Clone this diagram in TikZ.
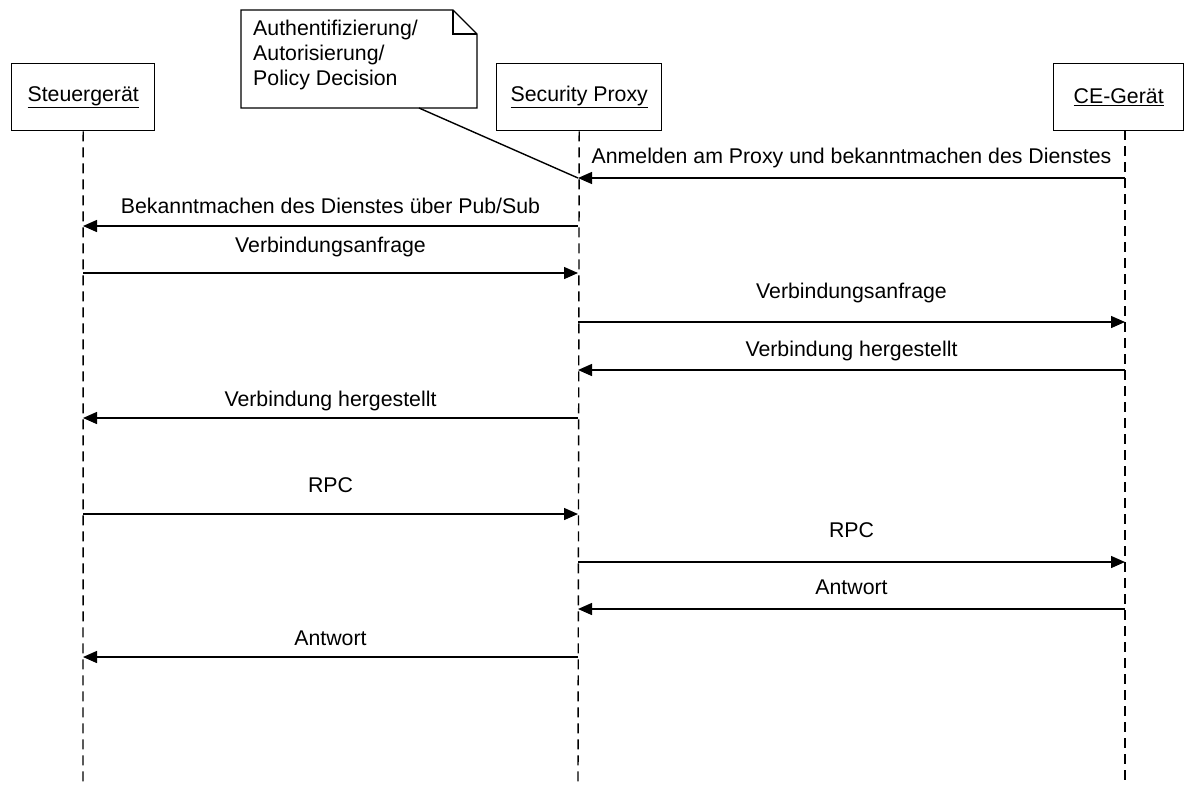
\documentclass[tikz,border=0pt]{standalone}
\usepackage{fontspec}
\setmainfont{Liberation Sans}
\usetikzlibrary{arrows.meta}
\begin{document}
\begin{tikzpicture}[x=1pt,y=-1pt,
  every node/.style={font=\fontsize{21.3}{25}\selectfont, inner sep=0pt},
  actor/.style={draw, line width=1.4pt, minimum height=67pt, anchor=north west},
  lifeline/.style={line width=1.4pt, dash pattern=on 10pt off 6pt},
  msg/.style={line width=1.4pt, -{Triangle[length=14pt,width=12pt]}},
  lbl/.style={anchor=base, yshift=#1}]
\useasboundingbox (0,0) rectangle (1191,785);

% participants
\node[actor, minimum width=143pt] (sg) at (11,63) {\underline{Steuergerät}};
\node[actor, minimum width=165pt] (sp) at (496,63) {\underline{Security Proxy}};
\node[actor, minimum width=130pt] (ce) at (1053,63) {\underline{CE-Gerät}};

% lifelines
\coordinate (cetop) at (1125,130);
\coordinate (sgend) at (83,785);
\coordinate (spend) at (578,785);
\coordinate (ceend) at (1125,785);
\draw[lifeline] (sg.south) -- (sgend);
\draw[lifeline] (sp.south) -- (spend);
\draw[lifeline] (cetop) -- (ceend);

% message anchors on the lifelines
\foreach \n/\y in {1/178,2/226,3/273,4/322,5/370,6/418,7/514,8/562,9/609,10/657}{
  \coordinate (sg\n) at (83,\y);
  \coordinate (sp\n) at (578,\y);
  \coordinate (ce\n) at (1125,\y);
}

% messages
\draw[msg] (ce1) -- node[lbl=15pt] {Anmelden am Proxy und bekanntmachen des Dienstes} (sp1);
\draw[msg] (sp2) -- node[lbl=12.5pt] {Bekanntmachen des Dienstes über Pub/Sub} (sg2);
\draw[msg] (sg3) -- node[lbl=20.5pt] {Verbindungsanfrage} (sp3);
\draw[msg] (sp4) -- node[lbl=24pt] {Verbindungsanfrage} (ce4);
\draw[msg] (ce5) -- node[lbl=14pt] {Verbindung hergestellt} (sp5);
\draw[msg] (sp6) -- node[lbl=12pt] {Verbindung hergestellt} (sg6);
\draw[msg] (sg7) -- node[lbl=21.5pt] {RPC} (sp7);
\draw[msg] (sp8) -- node[lbl=24.5pt] {RPC} (ce8);
\draw[msg] (ce9) -- node[lbl=14.5pt] {Antwort} (sp9);
\draw[msg] (sp10) -- node[lbl=12pt] {Antwort} (sg10);

% note with folded corner
\draw[line width=1.4pt, fill=white] (241,10) -- (453,10) -- (477,34) -- (477,108) -- (241,108) -- cycle;
\draw[line width=1.4pt] (453,10) -- (453,34) -- (477,34);
\node[anchor=north west, align=left] (note) at (253,20) {Authentifizierung/\\Autorisierung/\\Policy Decision};
\coordinate (notefoot) at (419,108);
\draw[line width=1.4pt] (notefoot) -- (sp1);
\end{tikzpicture}
\end{document}
